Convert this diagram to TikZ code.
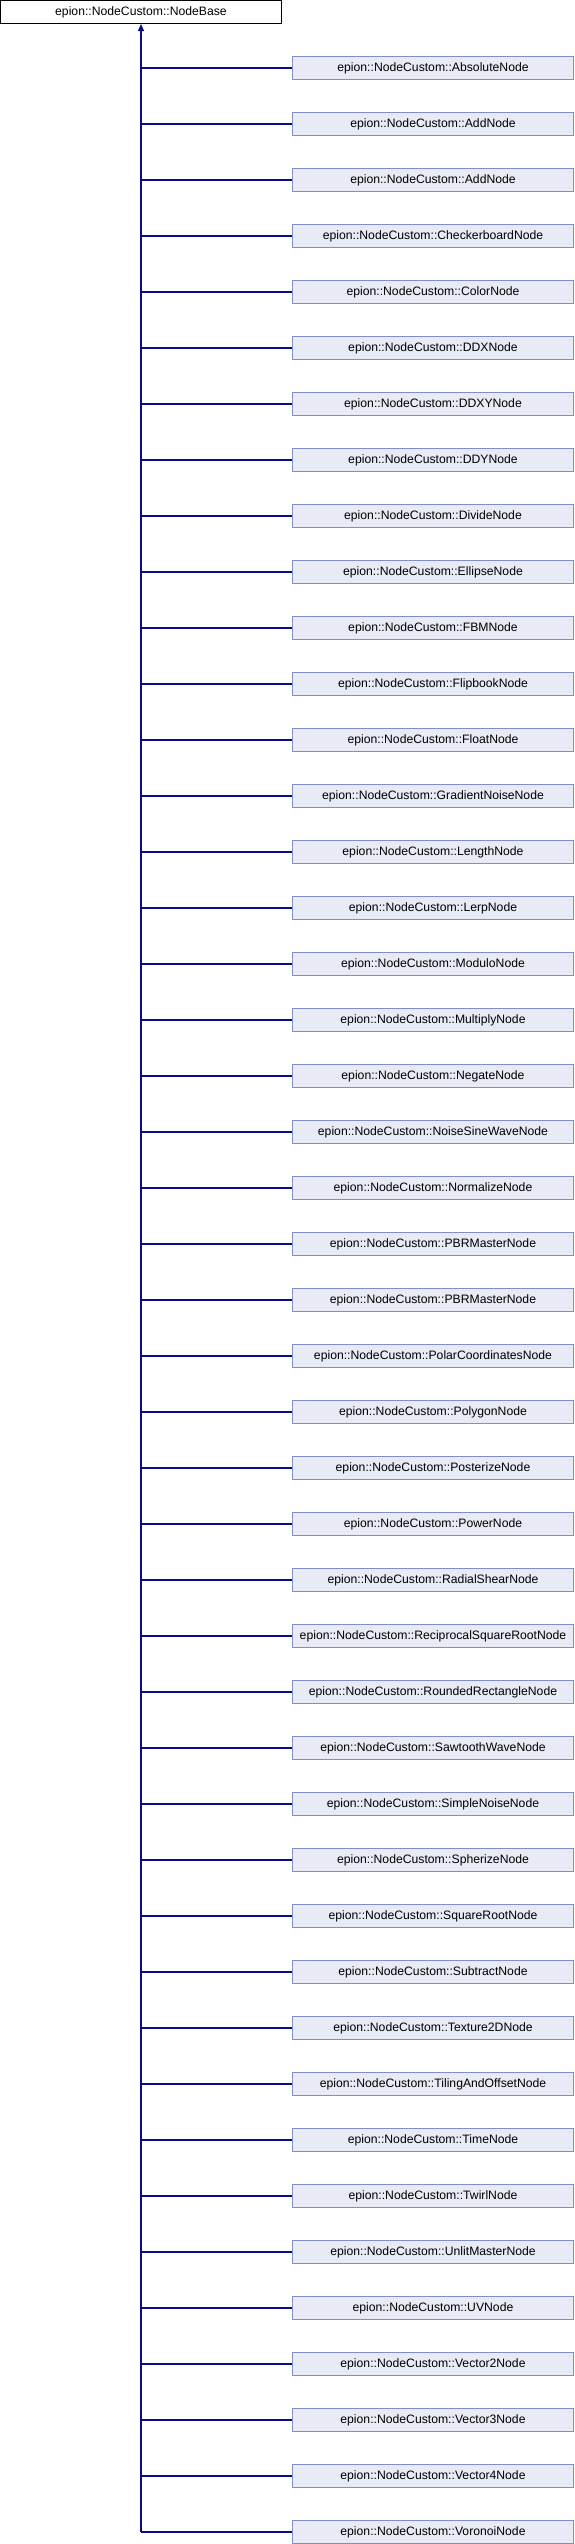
\documentclass[tikz,border=0pt]{standalone}
\usepackage{fontspec}
\setmainfont{Liberation Sans}
\usetikzlibrary{arrows.meta}
\definecolor{childfill}{RGB}{232,234,246}
\definecolor{childborder}{RGB}{128,142,208}
\definecolor{linkcol}{RGB}{10,10,140}
\tikzset{
  basebox/.style={draw=black, fill=white, line width=1pt, minimum width=281pt, minimum height=23pt, inner sep=0pt, font=\fontsize{12.2}{14}\selectfont},
  childbox/.style={draw=childborder, fill=childfill, line width=1pt, minimum width=281pt, minimum height=23pt, inner sep=0pt, font=\fontsize{12.2}{14}\selectfont},
  link/.style={draw=linkcol, line width=1.2pt},
  inherit/.style={link, -{Triangle[width=6pt,length=7pt]}}
}
\begin{document}
\begin{tikzpicture}[x=1pt,y=-1pt]
\useasboundingbox (0,0) rectangle (574,2544);
\node[basebox] (base) at (141,12) {epion::NodeCustom::NodeBase};
\foreach \nm [count=\i from 0] in {AbsoluteNode,AddNode,AddNode,CheckerboardNode,ColorNode,DDXNode,DDXYNode,DDYNode,DivideNode,EllipseNode,FBMNode,FlipbookNode,FloatNode,GradientNoiseNode,LengthNode,LerpNode,ModuloNode,MultiplyNode,NegateNode,NoiseSineWaveNode,NormalizeNode,PBRMasterNode,PBRMasterNode,PolarCoordinatesNode,PolygonNode,PosterizeNode,PowerNode,RadialShearNode,ReciprocalSquareRootNode,RoundedRectangleNode,SawtoothWaveNode,SimpleNoiseNode,SpherizeNode,SquareRootNode,SubtractNode,Texture2DNode,TilingAndOffsetNode,TimeNode,TwirlNode,UnlitMasterNode,UVNode,Vector2Node,Vector3Node,Vector4Node,VoronoiNode}{
  \node[childbox] (c\i) at (433,{68+56*\i}) {epion::NodeCustom::\nm};
  \draw[link] (c\i.west) -- (c\i.west -| base.south);
}
\coordinate (trunkend) at (base.south |- c44.west);
\draw[inherit] (trunkend) -- (base.south);
\end{tikzpicture}
\end{document}
